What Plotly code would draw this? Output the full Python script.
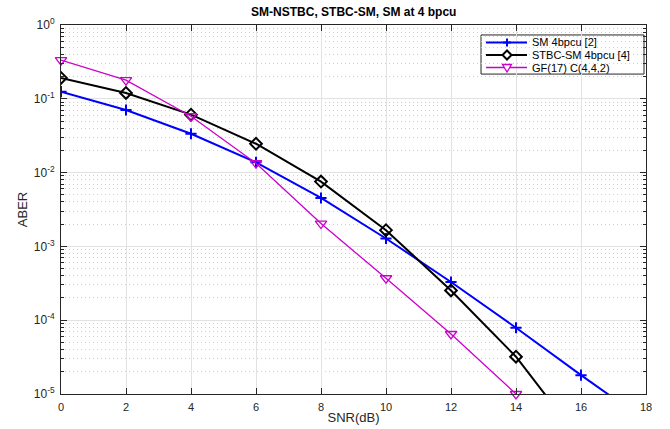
import plotly.graph_objects as go

# SNR points (dB)
snr = [0, 2, 4, 6, 8, 10, 12, 14, 16, 18]

# Average bit error rate per scheme
aber_sm = [0.125, 0.0705, 0.0336, 0.0138, 0.00453, 0.00128, 3.29e-4, 7.9e-5, 1.8e-5, 4.3e-6]
aber_stbc_sm = [0.192, 0.12, 0.061, 0.0246, 0.00755, 0.00166, 2.53e-4, 3.2e-5, 2.3e-6]
aber_gf17 = [0.334, 0.179, 0.058, 0.0134, 0.00204, 3.7e-4, 6.5e-5, 1e-5]

series_names = ["SM 4bpcu [2]", "STBC-SM 4bpcu [4]", "GF(17) C(4,4,2)"]
series_colors = ["#0000FF", "#000000", "#CC00CC"]
series_symbols = ["cross-thin", "diamond-open", "triangle-down-open"]
series_widths = [2, 2, 1.3]
series_sizes = [8, 9, 10]

# Legend glyphs as pixel paths (centred on the anchor)
legend_glyphs = ["M-4,0H4M0,-4V4",
                 "M0,-4.5L4.5,0L0,4.5L-4.5,0Z",
                 "M-4.5,3H4.5L0,-4.5Z"]

x_ticks = list(range(0, 19, 2))
y_ticks = [1e-5, 1e-4, 1e-3, 1e-2, 1e-1, 1]
y_tick_text = ["10<sup>-5</sup>", "10<sup>-4</sup>", "10<sup>-3</sup>",
               "10<sup>-2</sup>", "10<sup>-1</sup>", "10<sup>0</sup>"]
y_minor = [m * 10.0 ** e for e in range(-5, 0) for m in range(2, 10)]

FONT = "Liberation Sans, Arial, sans-serif"

fig = go.Figure()

for name, ys, color, sym, lw, ms in zip(series_names, [aber_sm, aber_stbc_sm, aber_gf17],
                                        series_colors, series_symbols, series_widths, series_sizes):
    fig.add_trace(go.Scatter(
        x=snr[:len(ys)], y=ys, name=name, mode="lines+markers",
        line=dict(color=color, width=lw),
        marker=dict(symbol=sym, size=ms, color=color, line=dict(color=color, width=lw)),
        cliponaxis=(name != series_names[2]),
        showlegend=False,
    ))

# Compact boxed legend in the upper-right corner (plot-area fractions)
box_x0, box_x1, box_y0, box_y1 = 0.718, 0.9966, 0.867, 0.973
row_y = [0.9526, 0.9187, 0.8848]
line_x0, line_x1, mark_x, text_x = 0.7265, 0.7966, 0.7624, 0.8017

shapes = [dict(type="rect", xref="paper", yref="paper",
               x0=box_x0, x1=box_x1, y0=box_y0, y1=box_y1,
               fillcolor="white", line=dict(color="#262626", width=1), layer="between")]
annotations = []
for name, color, lw, ry, glyph in zip(series_names, series_colors, series_widths, row_y, legend_glyphs):
    shapes.append(dict(type="line", xref="paper", yref="paper",
                       x0=line_x0, x1=line_x1, y0=ry, y1=ry,
                       line=dict(color=color, width=lw), layer="above"))
    shapes.append(dict(type="path", xref="paper", yref="paper",
                       xsizemode="pixel", ysizemode="pixel", xanchor=mark_x, yanchor=ry,
                       path=glyph, fillcolor="white" if glyph.endswith("Z") else None,
                       line=dict(color=color, width=lw), layer="above"))
    annotations.append(dict(text=name, xref="paper", yref="paper", x=text_x, y=ry,
                            xanchor="left", yanchor="middle", showarrow=False,
                            font=dict(family=FONT, size=11, color="#000000")))

fig.update_layout(
    width=670, height=429,
    margin=dict(l=61, r=24, t=25, b=35),
    paper_bgcolor="white", plot_bgcolor="white",
    font=dict(family=FONT, size=11, color="#262626"),
    title=dict(text="<b>SM-NSTBC, STBC-SM, SM at 4 bpcu</b>", x=0.528, xanchor="center",
               y=0.972, yanchor="middle",
               font=dict(family=FONT, size=12, color="#000000")),
    showlegend=False,
    shapes=shapes,
    annotations=annotations,
    xaxis=dict(
        range=[0, 18], tickvals=x_ticks, title=dict(text="SNR(dB)", standoff=0),
        automargin=False,
        tickfont=dict(size=11), ticklabelstandoff=3,
        showgrid=True, gridcolor="#E2E2E2", gridwidth=1,
        showline=True, linecolor="#262626", linewidth=1, mirror="ticks",
        ticks="inside", ticklen=6, tickcolor="#262626", zeroline=False,
    ),
    yaxis=dict(
        type="log", range=[-5, 0], tickvals=y_ticks, ticktext=y_tick_text,
        title=dict(text="ABER", standoff=3),
        automargin=False,
        tickfont=dict(size=12), ticklabelstandoff=3,
        showgrid=True, gridcolor="#E2E2E2", gridwidth=1,
        showline=True, linecolor="#262626", linewidth=1, mirror="ticks",
        ticks="inside", ticklen=6, tickcolor="#262626", zeroline=False,
        minor=dict(tickvals=y_minor, ticks="inside", ticklen=3, tickcolor="#262626",
                   showgrid=True, gridcolor="#CFCFCF", griddash="1px,3px", gridwidth=1),
    ),
)

fig.write_html("out.html")
